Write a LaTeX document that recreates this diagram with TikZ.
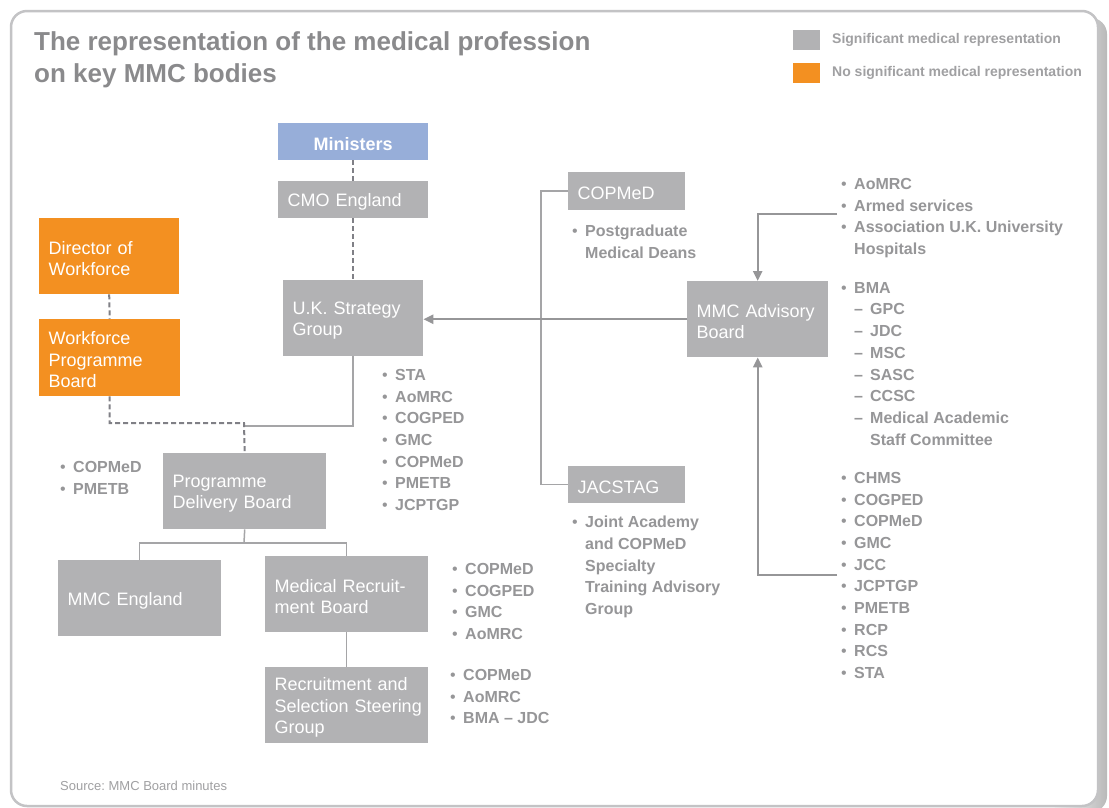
\documentclass[tikz,border=0pt]{standalone}
\usepackage{fontspec}
\setmainfont{Liberation Sans}
\usetikzlibrary{arrows.meta}
\frenchspacing
\definecolor{boxgray}{RGB}{178,178,180}
\definecolor{orng}{RGB}{243,144,33}
\definecolor{blu}{RGB}{151,174,217}
\definecolor{titlegray}{RGB}{138,138,140}
\definecolor{listgray}{RGB}{150,150,152}
\definecolor{leggray}{RGB}{160,160,162}
\definecolor{linegray}{RGB}{165,165,167}
\definecolor{arrgray}{RGB}{150,150,152}
\definecolor{dashgray}{RGB}{128,128,134}
\definecolor{framegray}{RGB}{195,195,197}
\newcommand\bl{\makebox[13pt][l]{\mdseries\textbullet}}
\newcommand\ind{\makebox[13pt][l]{}}
\newcommand\sd{\makebox[13pt][l]{}\makebox[16pt][l]{--}}
\newcommand\sind{\makebox[29pt][l]{}}
\newcommand\nohyph{\hyphenpenalty=10000\relax\exhyphenpenalty=10000\relax}
\begin{document}
\begin{tikzpicture}[x=1pt,y=-1pt,
  box/.style={rectangle, fill=boxgray, text=white, inner xsep=9.5pt, inner ysep=0pt, align=left,
    text height=17.5pt,
    font=\nohyph\fontsize{18}{21.5}\selectfont, anchor=north west},
  obox/.style={box, fill=orng},
  list/.style={anchor=north west, inner sep=0pt, align=left, text=listgray,
    font=\bfseries\fontsize{16}{21.7}\selectfont},
  dashln/.style={draw=dashgray, line width=2pt, dash pattern=on 5pt off 3pt},
  thinln/.style={draw=linegray, line width=1.5pt},
  arr/.style={draw=arrgray, line width=2.4pt, -{Triangle[length=10pt,width=9pt]}},
]
\useasboundingbox (0,0) rectangle (1109,807);
\fill[white] (0,0) rectangle (1109,807);
% frame and shadow
\shade[left color=white, right color=gray!55, rounded corners=16pt] (1050,18) rectangle (1107,812);
\draw[framegray, fill=white, line width=2.5pt, rounded corners=16pt] (11,11) rectangle (1098,806);

% title
\node[anchor=north west, inner sep=0pt, align=left, text=titlegray,
  font=\bfseries\fontsize{26}{32}\selectfont] (title) at (34,31)
  {The representation of the medical profession\\on key MMC bodies};

% legend
\node[fill=boxgray, minimum width=27pt, minimum height=20pt, inner sep=0pt, anchor=north west] (lg1) at (793,30) {};
\node[fill=orng, minimum width=27pt, minimum height=20pt, inner sep=0pt, anchor=north west] (lg2) at (793,63) {};
\node[anchor=west, inner sep=0pt, text=leggray, font=\bfseries\fontsize{14}{16}\selectfont] (lt1) at (832,40) {Significant medical representation};
\node[anchor=west, inner sep=0pt, text=leggray, font=\bfseries\fontsize{14}{16}\selectfont] (lt2) at (832,73) {No significant medical representation};

% boxes
\node[box, fill=blu, align=center, font=\bfseries\fontsize{18}{21.5}\selectfont,
  minimum width=150pt, minimum height=37pt, text width=131pt] (min) at (278,123) {Ministers};
\node[box, minimum width=150pt, minimum height=37pt, text width=131pt] (cmo) at (278,181) {CMO England};
\node[box, minimum width=140pt, minimum height=76pt, text width=121pt] (uksg) at (283,280) {U.K. Strategy\\Group};
\node[obox, minimum width=140pt, minimum height=76pt, text width=121pt] (dir) at (39,218) {Director of\\Workforce};
\node[obox, minimum width=141pt, minimum height=77pt, text width=122pt] (wpb) at (39,319) {Workforce\\Programme\\Board};
\node[box, minimum width=163pt, minimum height=76pt, text width=144pt] (pdb) at (163,453) {Programme\\Delivery Board};
\node[box, minimum width=163pt, minimum height=76pt, text width=144pt] (mmce) at (58,560) {MMC England};
\node[box, minimum width=163pt, minimum height=76pt, text width=144pt] (mrb) at (265,556) {Medical Recruit-\\ment Board};
\node[box, minimum width=163pt, minimum height=76pt, text width=144pt] (rssg) at (265,667) {\mbox{Recruitment and}\\\mbox{Selection Steering}\\\mbox{Group}};
\node[box, minimum width=117pt, minimum height=38pt, text width=98pt] (cop) at (568,172) {COPMeD};
\node[box, minimum width=117pt, minimum height=37pt, text width=98pt] (jac) at (568,466) {JACSTAG};
\node[box, minimum width=141pt, minimum height=76pt, text width=122pt] (adv) at (687,281) {MMC Advisory\\Board};

% lists
\node[list] (l1) at (382,369) {\bl STA\\\bl AoMRC\\\bl COGPED\\\bl GMC\\\bl COPMeD\\\bl PMETB\\\bl JCPTGP};
\node[list] (l2) at (60,461) {\bl COPMeD\\\bl PMETB};
\node[list] (l3) at (572,225) {\bl Postgraduate\\\ind Medical Deans};
\node[list] (l4) at (572,516) {\bl Joint Academy\\\ind and COPMeD\\\ind Specialty\\\ind Training Advisory\\\ind Group};
\node[list] (l5) at (452,563) {\bl COPMeD\\\bl COGPED\\\bl GMC\\\bl AoMRC};
\node[list] (l6) at (450,669) {\bl COPMeD\\\bl AoMRC\\\bl BMA -- JDC};
\node[list] (l7) at (841,178) {\bl AoMRC\\\bl Armed services\\\bl Association U.K. University\\\ind Hospitals};
\node[list] (l8) at (841,282) {\bl BMA\\\sd GPC\\\sd JDC\\\sd MSC\\\sd SASC\\\sd CCSC\\\sd Medical Academic\\\sind Staff Committee};
\node[list] (l9) at (841,472) {\bl CHMS\\\bl COGPED\\\bl COPMeD\\\bl GMC\\\bl JCC\\\bl JCPTGP\\\bl PMETB\\\bl RCP\\\bl RCS\\\bl STA};

% source
\node[anchor=base west, inner sep=0pt, text=leggray, font=\fontsize{13}{15}\selectfont] (src) at (60,790) {Source: MMC Board minutes};

% connectors
\coordinate (j1) at (244,423);
\coordinate (j2) at (244,426);
\coordinate (j3) at (244,543);
\coordinate (bx) at (541,300);
\coordinate (t1) at (837,214);
\coordinate (t2) at (837,575);

\draw[dashln] (min.south) -- (cmo.north);
\draw[dashln] (cmo.south) -- (uksg.north);
\draw[dashln] (dir.south) -- (wpb.north);
\draw[thinln] (uksg.south) |- (j2);
\draw[dashln] (wpb.south) |- (j1) -- (pdb.north);
\draw[thinln] (pdb.south) -- (j3);
\draw[thinln] (mmce.north) |- (j3) -| (mrb.north);
\draw[thinln] (mrb.south) -- (rssg.north);
\draw[thinln] (cop.west) -| (bx) |- (jac.west);
\draw[arr] (adv.west) -- (uksg.east |- adv.west);
\draw[arr] (t1) -| (adv.north);
\draw[arr] (t2) -| (adv.south);
\end{tikzpicture}
\end{document}
